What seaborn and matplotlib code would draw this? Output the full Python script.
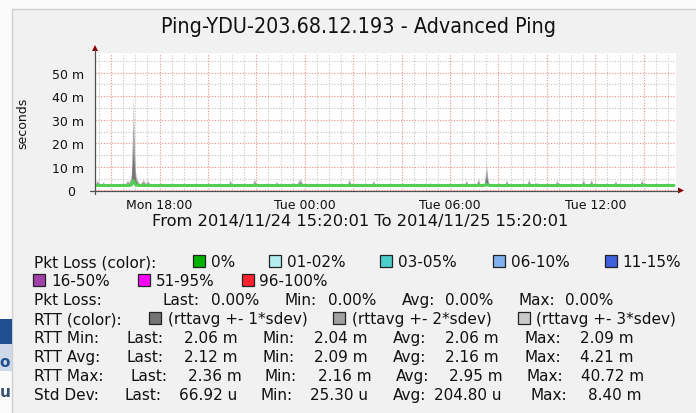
import numpy as np
import pandas as pd
import seaborn as sns
import matplotlib
matplotlib.use("Agg")
import matplotlib.pyplot as plt
import matplotlib.dates as mdates
from matplotlib.patches import Rectangle, Polygon
from matplotlib.ticker import MultipleLocator, FuncFormatter

title = "Ping-YDU-203.68.12.193 - Advanced Ping"
start = "2014-11-24 15:20:01"
end = "2014-11-25 15:20:01"

# RTT average in ms, 5 minute steps, one row per hour
rtt_avg = [
    2.12, 2.15, 2.12, 2.10, 2.13, 2.10, 2.11, 2.10, 2.10, 2.10, 2.10, 2.10,
    2.10, 2.10, 2.11, 2.12, 2.16, 2.14, 2.35, 4.21, 2.50, 2.20, 2.12, 2.14,
    2.16, 2.12, 2.14, 2.11, 2.10, 2.10, 2.10, 2.10, 2.10, 2.10, 2.10, 2.10,
    2.10, 2.12, 2.10, 2.10, 2.10, 2.10, 2.10, 2.10, 2.10, 2.10, 2.10, 2.12,
    2.10, 2.10, 2.10, 2.10, 2.10, 2.10, 2.10, 2.10, 2.10, 2.10, 2.10, 2.10,
    2.10, 2.10, 2.10, 2.10, 2.10, 2.10, 2.11, 2.14, 2.11, 2.10, 2.10, 2.10,
    2.10, 2.10, 2.10, 2.10, 2.10, 2.10, 2.11, 2.15, 2.11, 2.10, 2.10, 2.12,
    2.10, 2.10, 2.10, 2.10, 2.10, 2.10, 2.13, 2.10, 2.10, 2.10, 2.10, 2.10,
    2.10, 2.11, 2.13, 2.11, 2.11, 2.14, 2.15, 2.11, 2.10, 2.10, 2.10, 2.10,
    2.12, 2.10, 2.10, 2.10, 2.10, 2.10, 2.10, 2.10, 2.10, 2.10, 2.10, 2.10,
    2.10, 2.10, 2.10, 2.10, 2.10, 2.11, 2.15, 2.11, 2.10, 2.10, 2.12, 2.10,
    2.10, 2.10, 2.10, 2.10, 2.10, 2.11, 2.14, 2.11, 2.10, 2.10, 2.10, 2.10,
    2.10, 2.12, 2.10, 2.10, 2.10, 2.10, 2.10, 2.10, 2.11, 2.10, 2.10, 2.10,
    2.10, 2.10, 2.10, 2.10, 2.11, 2.10, 2.10, 2.10, 2.10, 2.10, 2.12, 2.10,
    2.10, 2.10, 2.10, 2.10, 2.10, 2.10, 2.10, 2.10, 2.10, 2.10, 2.10, 2.10,
    2.10, 2.10, 2.10, 2.11, 2.14, 2.11, 2.10, 2.10, 2.10, 2.11, 2.15, 2.11,
    2.10, 2.20, 2.60, 2.25, 2.12, 2.10, 2.10, 2.10, 2.12, 2.10, 2.10, 2.11,
    2.14, 2.11, 2.10, 2.10, 2.10, 2.10, 2.10, 2.10, 2.10, 2.10, 2.11, 2.15,
    2.11, 2.10, 2.10, 2.12, 2.10, 2.10, 2.10, 2.12, 2.10, 2.10, 2.10, 2.10,
    2.11, 2.14, 2.11, 2.10, 2.10, 2.10, 2.10, 2.11, 2.10, 2.10, 2.10, 2.10,
    2.10, 2.11, 2.15, 2.11, 2.10, 2.11, 2.15, 2.11, 2.10, 2.10, 2.10, 2.10,
    2.10, 2.10, 2.10, 2.10, 2.10, 2.11, 2.14, 2.11, 2.10, 2.12, 2.10, 2.10,
    2.10, 2.10, 2.10, 2.10, 2.10, 2.10, 2.11, 2.15, 2.11, 2.10, 2.10, 2.10,
    2.10, 2.12, 2.10, 2.10, 2.10, 2.12, 2.10, 2.10, 2.10, 2.10, 2.10, 2.12,
]

# RTT standard deviation in ms, same steps
rtt_sdev = [
    0.06, 0.83, 0.43, 0.08, 0.56, 0.07, 0.29, 0.05, 0.04, 0.05, 0.04, 0.04,
    0.05, 0.04, 0.06, 0.12, 0.79, 0.49, 1.50, 12.16, 1.80, 0.83, 0.20, 0.49,
    0.89, 0.30, 0.73, 0.36, 0.10, 0.06, 0.05, 0.04, 0.06, 0.04, 0.05, 0.04,
    0.05, 0.29, 0.05, 0.04, 0.04, 0.06, 0.05, 0.04, 0.04, 0.05, 0.06, 0.29,
    0.05, 0.04, 0.04, 0.05, 0.04, 0.04, 0.06, 0.05, 0.04, 0.04, 0.05, 0.04,
    0.04, 0.05, 0.04, 0.06, 0.05, 0.04, 0.10, 0.83, 0.08, 0.05, 0.04, 0.04,
    0.05, 0.04, 0.04, 0.05, 0.04, 0.04, 0.06, 1.03, 0.06, 0.04, 0.05, 0.36,
    0.05, 0.04, 0.04, 0.05, 0.04, 0.06, 0.63, 0.05, 0.04, 0.04, 0.05, 0.04,
    0.05, 0.08, 0.49, 0.10, 0.12, 0.79, 0.96, 0.08, 0.05, 0.04, 0.04, 0.05,
    0.29, 0.05, 0.04, 0.04, 0.05, 0.04, 0.04, 0.05, 0.04, 0.04, 0.05, 0.04,
    0.04, 0.05, 0.04, 0.04, 0.05, 0.08, 1.03, 0.12, 0.05, 0.04, 0.36, 0.05,
    0.04, 0.04, 0.05, 0.04, 0.04, 0.08, 0.79, 0.10, 0.05, 0.04, 0.04, 0.05,
    0.04, 0.29, 0.05, 0.04, 0.04, 0.05, 0.04, 0.04, 0.23, 0.05, 0.04, 0.04,
    0.05, 0.04, 0.04, 0.05, 0.23, 0.04, 0.04, 0.05, 0.04, 0.06, 0.46, 0.05,
    0.04, 0.05, 0.04, 0.04, 0.05, 0.04, 0.04, 0.05, 0.04, 0.04, 0.05, 0.04,
    0.04, 0.05, 0.04, 0.08, 0.83, 0.07, 0.05, 0.04, 0.05, 0.10, 1.09, 0.08,
    0.05, 0.30, 3.13, 0.35, 0.06, 0.05, 0.06, 0.05, 0.36, 0.05, 0.06, 0.12,
    0.83, 0.08, 0.05, 0.04, 0.05, 0.04, 0.04, 0.05, 0.04, 0.05, 0.08, 0.96,
    0.10, 0.05, 0.06, 0.49, 0.05, 0.04, 0.05, 0.29, 0.05, 0.04, 0.04, 0.05,
    0.08, 0.89, 0.07, 0.05, 0.04, 0.04, 0.05, 0.23, 0.04, 0.04, 0.05, 0.04,
    0.05, 0.08, 0.96, 0.08, 0.05, 0.10, 0.96, 0.07, 0.05, 0.04, 0.04, 0.05,
    0.04, 0.05, 0.04, 0.04, 0.05, 0.08, 0.76, 0.07, 0.05, 0.36, 0.05, 0.04,
    0.04, 0.05, 0.04, 0.04, 0.05, 0.04, 0.10, 0.96, 0.08, 0.05, 0.04, 0.05,
    0.05, 0.29, 0.06, 0.05, 0.06, 0.29, 0.05, 0.06, 0.05, 0.04, 0.05, 0.07,
]

loss_labels = ["0%", "01-02%", "03-05%", "06-10%", "11-15%", "16-50%", "51-95%", "96-100%"]
loss_colors = ["#00b300", "#b3eeee", "#4ccfcc", "#7fb2ee", "#3f5fdd", "#a040a8", "#ff00ff", "#ff2030"]
loss_stats = ["0.00%", "0.00%", "0.00%", "0.00%"]

band_labels = ["(rttavg +- 1*sdev)", "(rttavg +- 2*sdev)", "(rttavg +- 3*sdev)"]
band_colors = ["#747474", "#a0a0a0", "#cacaca"]

stat_rows = ["RTT Min:", "RTT Avg:", "RTT Max:", "Std Dev:"]
stat_last = ["2.06 m", "2.12 m", "2.36 m", "66.92 u"]
stat_min = ["2.04 m", "2.09 m", "2.16 m", "25.30 u"]
stat_avg = ["2.06 m", "2.16 m", "2.95 m", "204.80 u"]
stat_max = ["2.09 m", "4.21 m", "40.72 m", "8.40 m"]

sns.set_style("white")
plt.rcParams["font.family"] = ["DejaVu Sans"]
plt.rcParams["text.color"] = "#111111"
plt.rcParams["xtick.color"] = "#111111"
plt.rcParams["ytick.color"] = "#111111"

W, H = 696, 414
fig = plt.figure(figsize=(W / 100, H / 100), dpi=100)
fig.patch.set_facecolor("#fbfbfb")


def pix_axes(zorder):
    a = fig.add_axes([0, 0, 1, 1], zorder=zorder)
    a.set_xlim(0, W)
    a.set_ylim(H, 0)
    a.axis("off")
    a.patch.set_alpha(0)
    return a


# background: page bits and the graph panel
bg = pix_axes(-1)
bg.add_patch(Rectangle((12, 10), 700, 420, facecolor="#f1f1f1", edgecolor="#cfcfcf", lw=1))
bg.add_patch(Rectangle((0, 320), 11.5, 25, facecolor="#1f4f8f", lw=0))
bg.add_patch(Rectangle((0, 345), 11.5, 27, facecolor="#cdd8e8", lw=0))
bg.text(5, 363, "o", color="#1f4f8f", fontsize=11, fontweight="bold", ha="center", va="center")
bg.text(5, 393, "u", color="#35506f", fontsize=11, fontweight="bold", ha="center", va="center")

# the graph itself
df = pd.DataFrame({
    "time": pd.date_range(start, periods=len(rtt_avg), freq="5min"),
    "avg": rtt_avg,
    "sdev": rtt_sdev,
})

ax = fig.add_axes([95 / W, 1 - 193 / H, 581 / W, 139 / H], zorder=1)
ax.set_facecolor("white")
ax.set_axisbelow(True)
for k, col in zip([3, 2, 1], band_colors[::-1]):
    ax.fill_between(df["time"], df["avg"], df["avg"] + k * df["sdev"], color=col, lw=0)
sns.lineplot(data=df, x="time", y="avg", color="#52cf52", lw=2.2, ax=ax)

ax.set_xlim(pd.Timestamp(start), pd.Timestamp(end))
ax.set_ylim(-0.64, 58.3)
ax.set_xlabel("")
ax.set_ylabel("")
for s in ax.spines.values():
    s.set_visible(False)

ax.xaxis.set_major_locator(mdates.HourLocator(byhour=range(0, 24, 2)))
ax.xaxis.set_minor_locator(mdates.MinuteLocator(byminute=[0, 30]))


def xfmt(v, pos):
    d = mdates.num2date(v)
    return d.strftime("%a %H:%M") if d.hour % 6 == 0 else ""


ax.xaxis.set_major_formatter(FuncFormatter(xfmt))
ax.yaxis.set_major_locator(MultipleLocator(10))
ax.yaxis.set_minor_locator(MultipleLocator(5))
ax.yaxis.set_major_formatter(FuncFormatter(lambda v, p: "0  " if v == 0 else "%d m" % v))

ax.grid(True, which="major", color="#f08c8c", ls=(0, (1, 1.5)), lw=0.8)
ax.grid(True, which="minor", color="#c4c4c4", ls=(0, (1, 1.5)), lw=0.8)
ax.tick_params(axis="x", which="both", length=0, pad=4, labelsize=9)
ax.tick_params(axis="y", which="major", length=3, width=0.8, color="#505050", pad=5, labelsize=9)
ax.tick_params(axis="y", which="minor", length=0)

# axes, arrows and all the text
ov = pix_axes(3)
ov.plot([95, 95], [195, 51], color="#505050", lw=0.9)
ov.plot([90, 678], [191.5, 191.5], color="#505050", lw=0.9)
ov.add_patch(Polygon([(92, 52), (98, 52), (95, 46)], closed=True, color="#8b0000", lw=0))
ov.add_patch(Polygon([(678, 188.5), (678, 194.5), (684, 191.5)], closed=True, color="#8b0000", lw=0))

ov.text(358.5, 27, title, fontsize=15.4, fontstretch="condensed", ha="center", va="center")
ov.text(22.7, 123, "seconds", fontsize=9, rotation=90, ha="center", va="center")
ov.text(360, 226.5, "From %s To %s" % (start.replace("-", "/"), end.replace("-", "/")),
        fontsize=11.7, ha="center", va="baseline")

fs = 11
rows = [262, 281, 300, 319, 338, 357, 376, 395]


def txt(x, r, s, ha="left"):
    ov.text(x, rows[r] + 5.5, s, fontsize=fs, ha=ha, va="baseline")


def box(x, r, color):
    ov.add_patch(Rectangle((x, rows[r] - 6), 12, 12, facecolor=color, edgecolor="#222222", lw=0.9))


txt(34, 0, "Pkt Loss (color):")
loss_pos = [(193, 0), (268.5, 0), (380, 0), (492.5, 0), (604.5, 0), (33, 1), (137.5, 1), (241.5, 1)]
for (x, r), lab, col in zip(loss_pos, loss_labels, loss_colors):
    box(x, r, col)
    txt(x + 18, r, lab)

txt(34, 2, "Pkt Loss:")
for (xl, xr), name, val in zip([(163, 259), (284, 376), (402, 493), (518, 613)],
                               ["Last:", "Min:", "Avg:", "Max:"], loss_stats):
    txt(xl, 2, name)
    txt(xr, 2, val, ha="right")

txt(34, 3, "RTT (color):")
for x, lab, col in zip([149, 333, 518], band_labels, band_colors):
    box(x, 3, col)
    txt(x + 18.5, 3, lab)

stat_cols = [
    [(127, 238), (263, 368), (393, 499), (524, 634)],
    [(127, 238), (263, 368), (393, 499), (524, 634)],
    [(130, 242), (265, 372), (396, 503), (527, 644)],
    [(125, 237), (261, 368), (393, 502), (530, 641)],
]
for i, name in enumerate(stat_rows):
    r = 4 + i
    txt(34, r, name)
    vals = [stat_last[i], stat_min[i], stat_avg[i], stat_max[i]]
    for (xl, xr), head, val in zip(stat_cols[i], ["Last:", "Min:", "Avg:", "Max:"], vals):
        txt(xl, r, head)
        txt(xr, r, val, ha="right")

fig.savefig("out.png", dpi=100, facecolor=fig.get_facecolor())
